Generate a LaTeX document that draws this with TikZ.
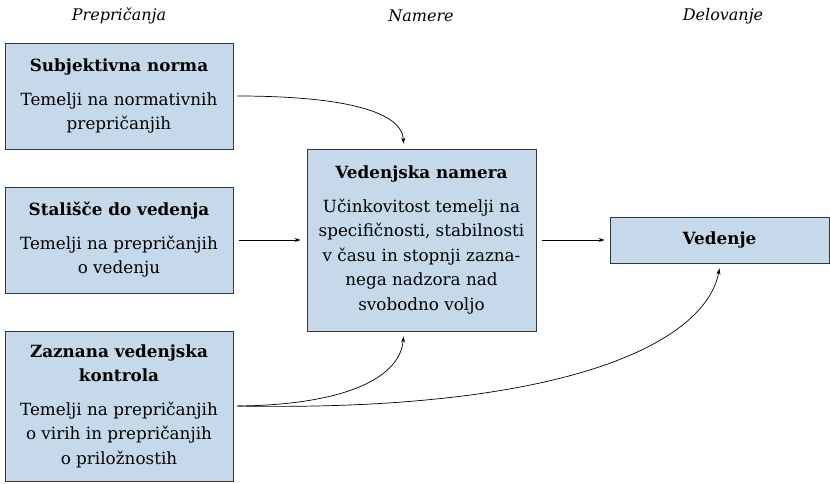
\documentclass[tikz,border=0pt]{standalone}
\usepackage{fontspec}
\setmainfont{DejaVu Serif}
\usetikzlibrary{arrows.meta}
\definecolor{boxfill}{RGB}{197,217,234}
\definecolor{boxline}{RGB}{55,55,55}
\tikzset{
  box/.style={draw=boxline, line width=0.9pt, fill=boxfill, align=center,
    inner sep=0pt, font=\fontsize{16.8}{24.5}\selectfont},
  hdr/.style={font=\fontsize{16}{18}\selectfont\itshape},
  conn/.style={line width=0.7pt, -{Stealth[length=6pt,width=4pt]}},
}
\begin{document}
\begin{tikzpicture}[x=1pt,y=-1pt]
\useasboundingbox (0,0) rectangle (830,483);
\node[hdr] (h1) at (119,16) {Prepričanja};
\node[hdr] (h2) at (421,16) {Namere};
\node[hdr] (h3) at (723,16) {Delovanje};

\node[box, minimum width=228pt, minimum height=106pt] (b1) at (119,96)
  {\textbf{Subjektivna norma}\\[9pt]Temelji na normativnih\\prepričanjih};
\node[box, minimum width=228pt, minimum height=106pt] (b2) at (119,240)
  {\textbf{Stališče do vedenja}\\[9pt]Temelji na prepričanjih\\o vedenju};
\node[box, minimum width=228pt, minimum height=150pt] (b3) at (119,406)
  {\textbf{Zaznana vedenjska}\\\textbf{kontrola}\\[9pt]Temelji na prepričanjih\\o virih in prepričanjih\\o priložnostih};
\node[box, minimum width=229pt, minimum height=182pt] (c) at (421.5,240)
  {\textbf{Vedenjska namera}\\[9pt]Učinkovitost temelji na\\specifičnosti, stabilnosti\\v času in stopnji zazna-\\nega nadzora nad\\svobodno voljo};
\node[box, minimum width=219pt, minimum height=46pt] (v) at (719.5,240)
  {\textbf{Vedenje}};

\draw[conn] ([xshift=4pt]b1.east) .. controls (330,96) and (402,108) .. ([yshift=5pt,xshift=-18pt]c.north);
\draw[conn] ([xshift=6pt]b2.east) -- ([xshift=-6pt]c.west);
\draw[conn] ([xshift=6pt]c.east) -- ([xshift=-5pt]v.west);
\draw[conn] ([xshift=4pt]b3.east) .. controls (340,405) and (400,380) .. ([yshift=-5pt,xshift=-18pt]c.south);
\draw[conn] ([xshift=4pt]b3.east) .. controls (560,412) and (705,345) .. ([yshift=-5pt]v.south);
\end{tikzpicture}
\end{document}
